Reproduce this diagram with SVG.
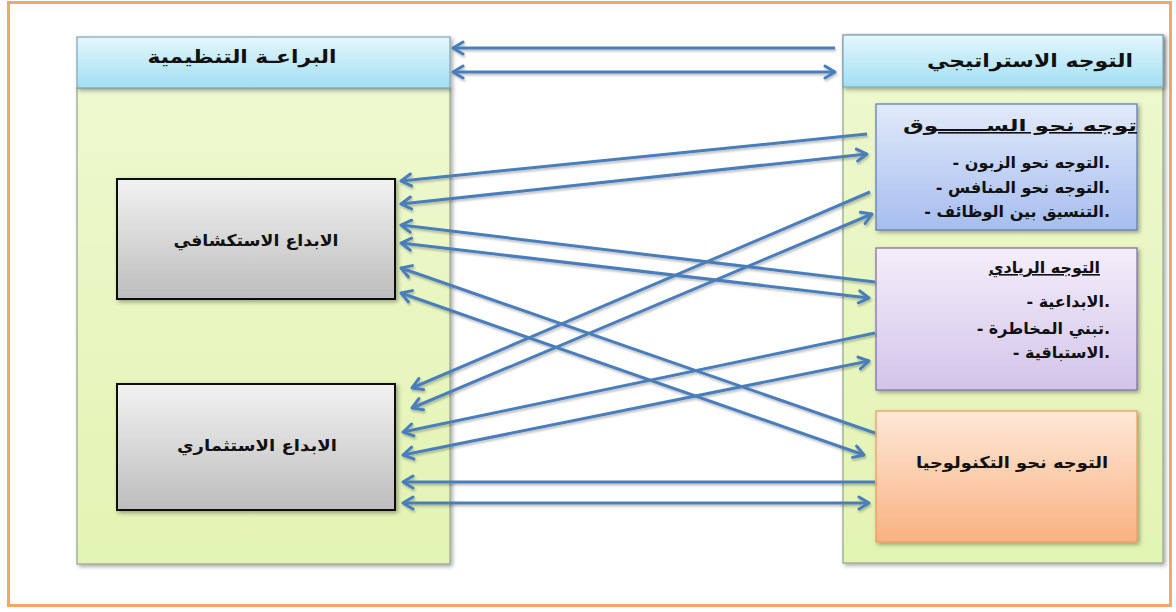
<svg xmlns="http://www.w3.org/2000/svg" width="1176" height="612" viewBox="0 0 1176 612">
<style>
.t{font-family:"DejaVu Sans","Noto Sans",sans-serif;font-weight:bold;fill:#111;}
.hd{font-size:18px;}
.bx{font-size:16px;}
.it{font-size:16px;}
.cn{fill:none;stroke:#4a7ebb;stroke-width:3;}
</style>
<defs>
<linearGradient id="gHead" x1="0" y1="0" x2="0" y2="1"><stop offset="0" stop-color="#e4f7fd"/><stop offset="1" stop-color="#a2def3"/></linearGradient>
<linearGradient id="gBody" x1="0" y1="0" x2="0" y2="1"><stop offset="0" stop-color="#eef8cf"/><stop offset="1" stop-color="#e2f4b2"/></linearGradient>
<linearGradient id="gGray" x1="0" y1="0" x2="0" y2="1"><stop offset="0" stop-color="#f2f2f2"/><stop offset="1" stop-color="#bdbdbd"/></linearGradient>
<linearGradient id="gBlue" x1="0" y1="0" x2="0" y2="1"><stop offset="0" stop-color="#e2eafb"/><stop offset="1" stop-color="#a6bdee"/></linearGradient>
<linearGradient id="gPurp" x1="0" y1="0" x2="0" y2="1"><stop offset="0" stop-color="#f4eefa"/><stop offset="1" stop-color="#d2c4ea"/></linearGradient>
<linearGradient id="gOrg" x1="0" y1="0" x2="0" y2="1"><stop offset="0" stop-color="#fde8d8"/><stop offset="1" stop-color="#f9b282"/></linearGradient>
<filter id="sh" x="-10%" y="-10%" width="120%" height="130%"><feDropShadow dx="2" dy="2" stdDeviation="2" flood-color="#000" flood-opacity="0.35"/></filter>
<filter id="lsh" x="-5%" y="-50%" width="110%" height="200%"><feDropShadow dx="1" dy="2" stdDeviation="1.2" flood-color="#000" flood-opacity="0.25"/></filter>
<marker id="ah" markerUnits="userSpaceOnUse" markerWidth="16" markerHeight="16" viewBox="0 0 16 16" refX="13" refY="8" orient="auto-start-reverse">
<path d="M3,2 L13,8 L3,14" fill="none" stroke="#4a7ebb" stroke-width="3" stroke-linecap="round" stroke-linejoin="round"/>
</marker>
</defs>
<rect x="8.5" y="2.5" width="1162" height="603" fill="#ffffff" stroke="#f0a86a" stroke-width="3"/>

<g id="panel-left">
<rect x="77" y="88" width="373" height="476" fill="url(#gBody)" stroke="#93a38a" stroke-width="1.2" filter="url(#sh)"/>
<rect x="77" y="37" width="373" height="51" fill="url(#gHead)" stroke="#7fa6b8" stroke-width="1.2" filter="url(#sh)"/>
<text class="t hd" x="242" y="63" text-anchor="middle" textLength="189" lengthAdjust="spacingAndGlyphs">البراعـة التنظيمية</text>
</g>
<g id="panel-right">
<rect x="843" y="35" width="320" height="528" fill="url(#gBody)" stroke="#93a38a" stroke-width="1.2" filter="url(#sh)"/>
<rect x="843" y="35" width="320" height="52" fill="url(#gHead)" stroke="#7fa6b8" stroke-width="1.2" filter="url(#sh)"/>
<text class="t hd" x="1030" y="67" text-anchor="middle" textLength="206" lengthAdjust="spacingAndGlyphs">التوجه الاستراتيجي</text>
</g>
<g id="node-exploratory">
<rect x="117" y="179" width="278" height="120" fill="url(#gGray)" stroke="#111" stroke-width="2" filter="url(#sh)"/>
<text class="t bx" x="256" y="246" text-anchor="middle" textLength="165" lengthAdjust="spacingAndGlyphs">الابداع الاستكشافي</text>
</g>
<g id="node-exploitative">
<rect x="117" y="384" width="278" height="126" fill="url(#gGray)" stroke="#111" stroke-width="2" filter="url(#sh)"/>
<text class="t bx" x="257" y="451" text-anchor="middle" textLength="160" lengthAdjust="spacingAndGlyphs">الابداع الاستثماري</text>
</g>
<g id="node-market">
<rect x="876" y="104" width="261" height="126" fill="url(#gBlue)" stroke="#5a78b0" stroke-width="1.2" filter="url(#sh)"/>
<text class="t it" x="1020" y="131" text-anchor="middle" textLength="234" lengthAdjust="spacingAndGlyphs" text-decoration="underline">توجه نحو الســــــوق</text>
<text class="t it" x="1110" y="168" text-anchor="end">- التوجه نحو الزبون.</text>
<text class="t it" x="1110" y="193" text-anchor="end">- التوجه نحو المنافس.</text>
<text class="t it" x="1110" y="217" text-anchor="end">- التنسيق بين الوظائف.</text>
</g>
<g id="node-entrepreneurial">
<rect x="876" y="248" width="261" height="142" fill="url(#gPurp)" stroke="#7d6aa8" stroke-width="1.2" filter="url(#sh)"/>
<text class="t it" x="1100" y="273" text-anchor="end" text-decoration="underline">التوجه الريادي</text>
<text class="t it" x="1110" y="307" text-anchor="end">- الابداعية.</text>
<text class="t it" x="1110" y="334" text-anchor="end">- تبني المخاطرة.</text>
<text class="t it" x="1110" y="358" text-anchor="end">- الاستباقية.</text>
</g>
<g id="node-technology">
<rect x="876" y="411" width="261" height="131" fill="url(#gOrg)" stroke="#eb9a5e" stroke-width="1.2" filter="url(#sh)"/>
<text class="t bx" x="1012" y="468" text-anchor="middle" textLength="192" lengthAdjust="spacingAndGlyphs">التوجه نحو التكنولوجيا</text>
</g>

<g id="connectors" filter="url(#lsh)">
<line class="cn" x1="835" y1="48" x2="453" y2="48" marker-end="url(#ah)"/>
<line class="cn" x1="453" y1="72" x2="835" y2="72" marker-start="url(#ah)" marker-end="url(#ah)"/>
<line class="cn" x1="867" y1="134" x2="401" y2="181" marker-end="url(#ah)"/>
<line class="cn" x1="401" y1="204" x2="867" y2="154" marker-start="url(#ah)" marker-end="url(#ah)"/>
<line class="cn" x1="875" y1="282" x2="401" y2="225" marker-end="url(#ah)"/>
<line class="cn" x1="401" y1="243" x2="869" y2="298" marker-start="url(#ah)" marker-end="url(#ah)"/>
<line class="cn" x1="875" y1="433" x2="401" y2="268" marker-end="url(#ah)"/>
<line class="cn" x1="401" y1="293" x2="864" y2="455" marker-start="url(#ah)" marker-end="url(#ah)"/>
<line class="cn" x1="870" y1="192" x2="412" y2="388" marker-end="url(#ah)"/>
<line class="cn" x1="412" y1="408" x2="872" y2="214" marker-start="url(#ah)" marker-end="url(#ah)"/>
<line class="cn" x1="875" y1="333" x2="403" y2="432" marker-end="url(#ah)"/>
<line class="cn" x1="403" y1="455" x2="869" y2="361" marker-start="url(#ah)" marker-end="url(#ah)"/>
<line class="cn" x1="875" y1="482" x2="403" y2="482" marker-end="url(#ah)"/>
<line class="cn" x1="403" y1="503" x2="869" y2="503" marker-start="url(#ah)" marker-end="url(#ah)"/>
</g>
</svg>
